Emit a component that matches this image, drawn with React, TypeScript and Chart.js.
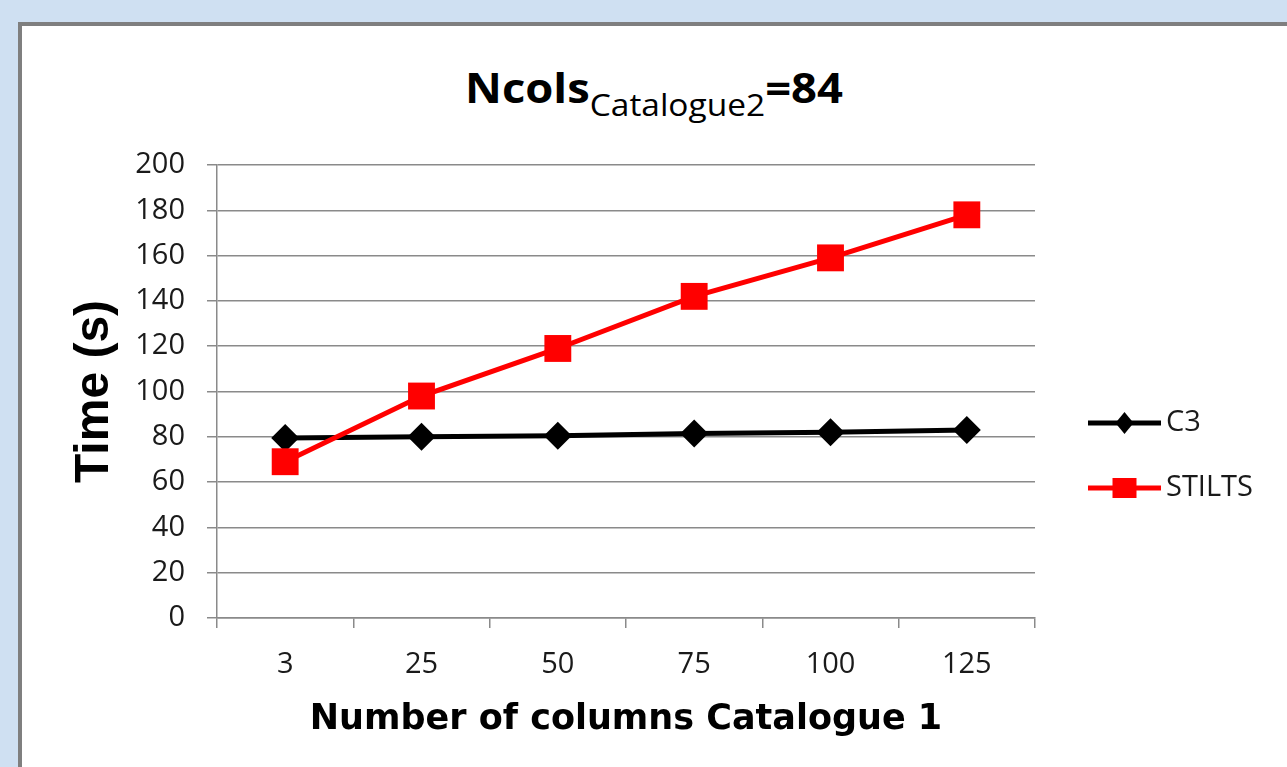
import React, { useEffect, useRef } from "react";
import { Chart, registerables } from "chart.js";

Chart.register(...registerables);

// ---- data ----
const categories: string[] = ["3", "25", "50", "75", "100", "125"];
const seriesNames: string[] = ["C3", "STILTS"];
const c3Values: number[] = [79.5, 80, 80.5, 81.5, 82, 83];
const stiltsValues: number[] = [69, 98, 119, 142, 159, 178];
const yMin = 0;
const yMax = 200;
const yStep = 20;

const titleMain = "Ncols";
const titleSub = "Catalogue2";
const titleTail = "=84";
const xTitle = "Number of columns Catalogue 1";
const yTitle = "Time (s)";

const GRID = "#8a8a8a";
const TEXT = "#1a1a1a";

const sideLegend = {
  id: "sideLegend",
  afterDraw(chart: any) {
    const { ctx, chartArea } = chart;
    const x0 = chartArea.right + 53;
    const x1 = chartArea.right + 126;
    const xm = (x0 + x1) / 2;
    const ys = [chartArea.top + 258, chartArea.top + 323];
    chart.data.datasets.forEach((ds: any, i: number) => {
      const y = ys[i];
      ctx.save();
      ctx.strokeStyle = ds.borderColor;
      ctx.lineWidth = 5;
      ctx.beginPath();
      ctx.moveTo(x0, y);
      ctx.lineTo(x1, y);
      ctx.stroke();
      ctx.fillStyle = ds.borderColor;
      ctx.beginPath();
      if (ds.pointStyle === "rectRot") {
        ctx.moveTo(xm - 9, y);
        ctx.lineTo(xm, y - 11);
        ctx.lineTo(xm + 9, y);
        ctx.lineTo(xm, y + 11);
        ctx.closePath();
      } else {
        ctx.rect(xm - 12, y - 10, 24, 20);
      }
      ctx.fill();
      ctx.font = '29px "Open Sans"';
      ctx.fillStyle = TEXT;
      ctx.textAlign = "left";
      ctx.textBaseline = "middle";
      ctx.fillText(ds.label, x1 + 5, y);
      ctx.restore();
    });
  },
};

export default function App() {
  const canvasRef = useRef<HTMLCanvasElement | null>(null);

  useEffect(() => {
    if (!canvasRef.current) return;
    const chart = new Chart(canvasRef.current, {
      type: "line",
      data: {
        labels: categories,
        datasets: [
          {
            label: seriesNames[0],
            data: c3Values,
            borderColor: "#000000",
            backgroundColor: "#000000",
            borderWidth: 5,
            pointStyle: "rectRot",
            pointRadius: 14,
            pointBorderWidth: 0,
            pointBackgroundColor: "#000000",
            tension: 0,
            order: 1,
          },
          {
            label: seriesNames[1],
            data: stiltsValues,
            borderColor: "#ff0000",
            backgroundColor: "#ff0000",
            borderWidth: 5,
            pointStyle: "rect",
            pointRadius: 19,
            pointBorderWidth: 0,
            pointBackgroundColor: "#ff0000",
            tension: 0,
            order: 0,
          },
        ],
      },
      options: {
        responsive: false,
        animation: false,
        events: [],
        layout: { padding: { left: 0, right: 252, top: 165, bottom: 0 } },
        plugins: {
          legend: { display: false },
          title: { display: false },
          tooltip: { enabled: false },
        },
        scales: {
          x: {
            type: "category",
            offset: true,
            afterFit: (s: any) => {
              s.height = 149;
            },
            grid: {
              offset: true,
              drawOnChartArea: false,
              drawTicks: true,
              tickLength: 10,
              color: GRID,
              lineWidth: 1.5,
            },
            border: { display: true, color: GRID, width: 1.5 },
            ticks: {
              color: TEXT,
              font: { family: '"Open Sans"', size: 29 },
              padding: 19,
              maxRotation: 0,
            },
            title: {
              display: true,
              text: xTitle,
              color: "#000",
              font: { family: '"DejaVu Sans"', size: 35, weight: "bold" },
              padding: { top: 0, bottom: 26 },
            },
          },
          y: {
            min: yMin,
            max: yMax,
            afterFit: (s: any) => {
              s.width = 217;
            },
            grid: {
              drawTicks: true,
              tickLength: 10,
              color: GRID,
              lineWidth: 1.5,
            },
            border: { display: true, color: GRID, width: 1.5 },
            ticks: {
              stepSize: yStep,
              color: TEXT,
              font: { family: '"Open Sans"', size: 29 },
              padding: 22,
            },
            title: {
              display: true,
              text: yTitle,
              color: "#000",
              font: { family: '"Liberation Sans"', size: 48, weight: "bold" },
              padding: { top: 66, bottom: 0 },
            },
          },
        },
      },
      plugins: [sideLegend],
    });
    return () => chart.destroy();
  }, []);

  return (
    <div
      style={{
        position: "fixed",
        left: 0,
        top: 0,
        width: 1287,
        height: 767,
        background: "#cfe0f2",
        overflow: "hidden",
      }}
    >
      <div
        style={{
          position: "absolute",
          left: 18,
          top: 22,
          width: 1320,
          height: 800,
          border: "4px solid #7f7f7f",
          background: "#ffffff",
        }}
      />
      <div
        style={{
          position: "absolute",
          left: 0,
          top: 66,
          width: 1307,
          textAlign: "center",
          whiteSpace: "nowrap",
          fontFamily: '"Open Sans", sans-serif',
          fontWeight: "bold",
          color: "#000",
          lineHeight: 1,
        }}
      >
        <span style={{ display: "inline-block", transform: "scaleX(1.08)" }}>
          <span style={{ fontSize: 42 }}>{titleMain}</span>
          <span style={{ fontSize: 31, fontWeight: "normal", position: "relative", top: 13 }}>
            {titleSub}
          </span>
          <span style={{ fontSize: 42 }}>{titleTail}</span>
        </span>
      </div>
      <canvas
        ref={canvasRef}
        width={1287}
        height={767}
        style={{ position: "absolute", left: 0, top: 0, width: 1287, height: 767 }}
      />
    </div>
  );
}
